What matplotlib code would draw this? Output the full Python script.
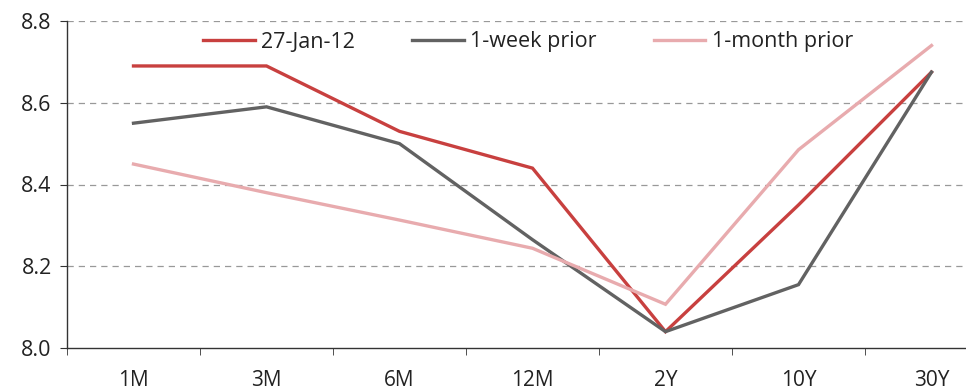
import matplotlib
matplotlib.use("Agg")
import matplotlib.pyplot as plt
import numpy as np

tenors = ["1M", "3M", "6M", "12M", "2Y", "10Y", "30Y"]
curve_latest = [8.69, 8.69, 8.53, 8.44, 8.04, 8.35, 8.675]
curve_week = [8.55, 8.59, 8.50, 8.265, 8.04, 8.155, 8.675]
curve_month = [8.45, 8.38, 8.313, 8.244, 8.107, 8.485, 8.74]
series_names = ["27-Jan-12", "1-week prior", "1-month prior"]
y_ticks = [8.0, 8.2, 8.4, 8.6, 8.8]

colors = ["#C8403F", "#626262", "#E8ABAE"]

plt.rcParams["font.family"] = ["Open Sans", "DejaVu Sans"]
plt.rcParams["text.color"] = "#222222"

fig = plt.figure(figsize=(9.66, 3.9), dpi=100)
ax = fig.add_axes([67 / 966, 1 - 348 / 390, 1 - 67 / 966, (348 - 21) / 390])

x = np.arange(len(tenors))
for vals, name, c in zip([curve_latest, curve_week, curve_month], series_names, colors):
    ax.plot(x, vals, color=c, lw=2.4, label=name, solid_joinstyle="miter")

ax.set_yticks(y_ticks)
ax.set_yticklabels([f"{v:.1f}" for v in y_ticks], fontsize=15.5, color="#222222")
ax.set_xticks(x)
ax.set_xticklabels(tenors, fontsize=15, color="#222222")
ax.set_xticks(np.arange(-0.5, 7.0, 1.0), minor=True)
ax.set_ylim(8.0, 8.8)
ax.set_xlim(-0.5, 6.5 - 32 / 133)
ax.tick_params(axis="x", which="major", length=0, pad=16)
ax.tick_params(axis="x", which="minor", length=5, direction="out", color="#333333")
ax.tick_params(axis="y", length=5, direction="out", color="#333333", pad=6)

for v in y_ticks[1:]:
    ax.axhline(v, color="#999999", lw=0.9, ls=(0, (5, 4)), zorder=0)

for s in ["top", "right"]:
    ax.spines[s].set_visible(False)
for s in ["left", "bottom"]:
    ax.spines[s].set_color("#333333")
    ax.spines[s].set_linewidth(1.0)
    ax.spines[s].set_clip_on(False)

leg = ax.legend(loc="center left", bbox_to_anchor=((203 - 67) / 899, 1 - (42 - 21) / 327),
                ncol=3, frameon=False, fontsize=15.5, handlelength=2.4,
                columnspacing=2.65, handletextpad=0.3, borderaxespad=0, borderpad=0)

fig.savefig("out.png", dpi=100)
